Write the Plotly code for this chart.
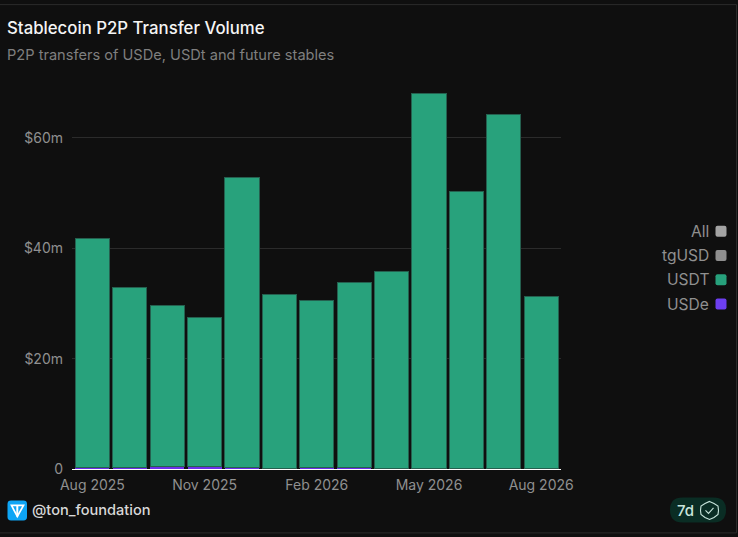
import plotly.graph_objects as go

W, H = 738, 537
ML, MR, MT, MB = 72, 177, 81, 67.5

months = ["Aug 2025", "Sep 2025", "Oct 2025", "Nov 2025", "Dec 2025", "Jan 2026", "Feb 2026",
          "Mar 2026", "Apr 2026", "May 2026", "Jun 2026", "Jul 2026", "Aug 2026"]
usde = [0.3, 0.3, 0.45, 0.5, 0.3, 0.1, 0.2, 0.2, 0.1, 0.05, 0.05, 0.05, 0.05]
usdt = [41.4, 32.6, 29.25, 27.0, 52.6, 31.6, 30.3, 33.6, 35.7, 68.05, 50.25, 64.15, 31.25]

x_ticks = ["Aug 2025", "Nov 2025", "Feb 2026", "May 2026", "Aug 2026"]
y_ticks = [0, 20, 40, 60]
y_labels = ["0", "$20m", "$40m", "$60m"]
legend_names = ["All", "tgUSD", "USDT", "USDe"]
legend_colors = ["#a3a3a3", "#8f8f8f", "#27a17c", "#6d3ff0"]

BG = "#0f0f0f"
FONT = "Inter"
GREY = "#909090"


# pixel position in the page -> paper coords
def px(x):
    return (x - ML) / (W - ML - MR)


def py(y):
    return 1 - (y - MT) / (H - MT - MB)


def path(points, close=True):
    s = "M " + " L ".join(f"{px(x):.5f},{py(y):.5f}" for x, y in points)
    return s + (" Z" if close else "")


def rounded(x0, y0, x1, y1, r):
    return (f"M {px(x0 + r):.5f},{py(y0):.5f} L {px(x1 - r):.5f},{py(y0):.5f} "
            f"Q {px(x1):.5f},{py(y0):.5f} {px(x1):.5f},{py(y0 + r):.5f} "
            f"L {px(x1):.5f},{py(y1 - r):.5f} Q {px(x1):.5f},{py(y1):.5f} {px(x1 - r):.5f},{py(y1):.5f} "
            f"L {px(x0 + r):.5f},{py(y1):.5f} Q {px(x0):.5f},{py(y1):.5f} {px(x0):.5f},{py(y1 - r):.5f} "
            f"L {px(x0):.5f},{py(y0 + r):.5f} Q {px(x0):.5f},{py(y0):.5f} {px(x0 + r):.5f},{py(y0):.5f} Z")


fig = go.Figure()
fig.add_trace(go.Bar(x=months, y=usde, name="USDe", marker=dict(color="#6a2fe8", line=dict(width=0))))
fig.add_trace(go.Bar(x=months, y=usdt, name="USDT", marker=dict(color="#28a27c", line=dict(color="#25604f", width=1))))

shapes = []
annotations = []


def text(x, y, s, size, color, anchor="left", weight=400):
    annotations.append(dict(xref="paper", yref="paper", x=px(x), y=py(y), text=s, showarrow=False,
                            xanchor=anchor, yanchor="middle", borderpad=0,
                            font=dict(family=FONT, size=size, color=color, weight=weight)))


def shape(p, fill="rgba(0,0,0,0)", color=None, width=0):
    shapes.append(dict(type="path", xref="paper", yref="paper", path=p, fillcolor=fill,
                       line=dict(color=color, width=width)))


# card border
shapes.append(dict(type="rect", xref="paper", yref="paper", x0=px(-5), x1=px(736.5), y0=py(4.5), y1=py(533.5),
                   line=dict(color="#2b2b2b", width=1), fillcolor="rgba(0,0,0,0)", layer="below"))

text(6, 28, "Stablecoin P2P Transfer Volume", 16.8, "#f5f5f5", weight=500)
text(6, 55, "P2P transfers of USDe, USDt and future stables", 14.6, "#7f7f7f")

# legend
for i, name in enumerate(legend_names):
    y = 231.5 + i * 24.3
    text(710, y, name, 15.6, GREY, anchor="right")
    shape(rounded(715.5, y - 5.5, 726.5, y + 5.5, 2), fill=legend_colors[i])

# ton logo
shape(rounded(7.5, 501, 27, 521, 3.5), fill="#0ea5f5")
shape(path([(11.5, 506), (23.5, 506), (17.3, 517)]), color="white", width=1.7)
shape(path([(17.3, 506), (17.3, 517)], close=False), color="white", width=2)
text(31, 511, "@ton_foundation", 14.6, "#d8d8d8", weight=500)

# 7d badge
shape(rounded(670, 498, 726, 523, 12.5), fill="#0a2d24")
text(676, 511, "7d", 15, "#c9e6dc", weight=500)
shape(path([(709.5, 502), (714, 504), (718, 506.5), (718.5, 511), (718, 515), (714, 518),
            (709.5, 520), (705, 518), (701, 515), (700.5, 511), (701, 506.5), (705, 504)]),
      color="#c9e6dc", width=1.1)
shape(path([(705.5, 511), (708.5, 514), (713.5, 508.5)], close=False), color="#c9e6dc", width=1.1)

fig.update_layout(
    width=W, height=H, barmode="stack", bargap=0.09, showlegend=False,
    paper_bgcolor=BG, plot_bgcolor=BG,
    margin=dict(l=ML, r=MR, t=MT, b=MB, pad=0),
    font=dict(family=FONT, size=14, color=GREY),
    shapes=shapes, annotations=annotations,
    xaxis=dict(type="category", categoryorder="array", categoryarray=months, range=[-0.545, 12.53],
               tickmode="array", tickvals=x_ticks, ticktext=x_ticks, showgrid=False,
               showline=True, linecolor="#ffffff", linewidth=1, layer="below traces", ticks="", tickangle=0,
               ticklabelstandoff=3, tickfont=dict(size=14, color=GREY)),
    yaxis=dict(range=[0, 70.3], tickmode="array", tickvals=y_ticks, ticktext=y_labels, showgrid=True,
               gridcolor="#2b2b2b", gridwidth=1, zeroline=False, ticks="", ticklabelstandoff=8,
               tickfont=dict(size=14, color=GREY)),
)

fig.write_html("out.html", config={"displayModeBar": False},
               post_script="document.body.style.margin='0';document.body.style.background='#0f0f0f';")
